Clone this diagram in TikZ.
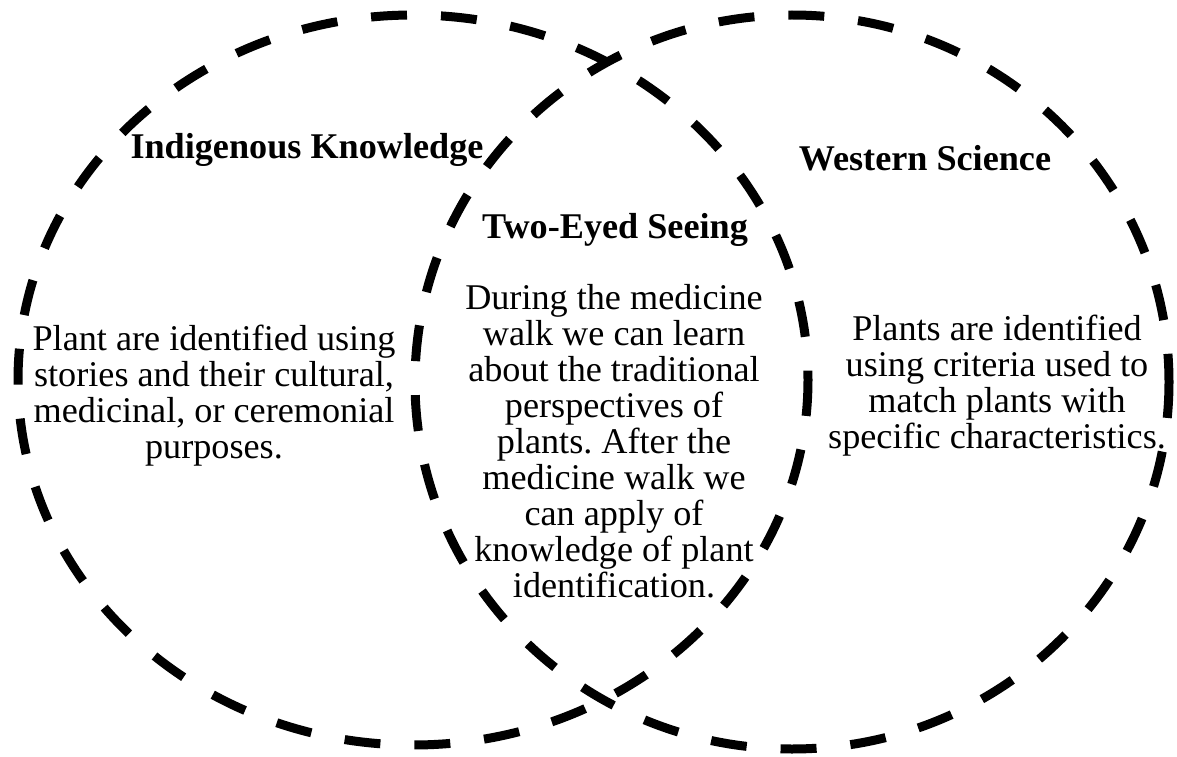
\documentclass[tikz,border=0pt]{standalone}
\usepackage{fontspec}
\setmainfont{Liberation Serif}
\usepackage{xcolor}
\usepackage{tikz}
\usetikzlibrary{positioning}
\frenchspacing

\begin{document}
\begin{tikzpicture}[
    x=0.02cm, y=-0.02cm,
    ring/.style={draw=black, line width=0.18cm, dash pattern={on 0.72cm off 0.68cm}},
    heading/.style={font=\fontsize{20.6}{20.5}\selectfont\bfseries, align=center, inner sep=0pt},
    body/.style={font=\fontsize{20.6}{20.5}\selectfont, align=center, inner sep=0pt}
]
\useasboundingbox (0,0) rectangle (1177,757);

% the two overlapping circles
\draw[ring] (413,380) ellipse [x radius=395, y radius=365];
\draw[ring] (792,382) ellipse [x radius=377, y radius=367];

% titles
\node[heading] (ik) at (307,150) {Indigenous Knowledge};
\node[heading] (ws) at (925,158) {Western Science};
\node[heading] (tes) at (615,230) {Two-Eyed Seeing};

% contents of each part
\node[body] (iktxt) at (214,396) {Plant are identified using\\stories and their cultural,\\medicinal, or ceremonial\\purposes.};
\node[body] (testxt) at (614,441) {During the medicine\\walk we can learn\\about the traditional\\perspectives of\\plants. After the\\medicine walk we\\can apply of\\knowledge of plant\\identification.};
\node[body] (wstxt) at (997,386) {Plants are identified\\using criteria used to\\match plants with\\specific characteristics.};
\end{tikzpicture}
\end{document}
